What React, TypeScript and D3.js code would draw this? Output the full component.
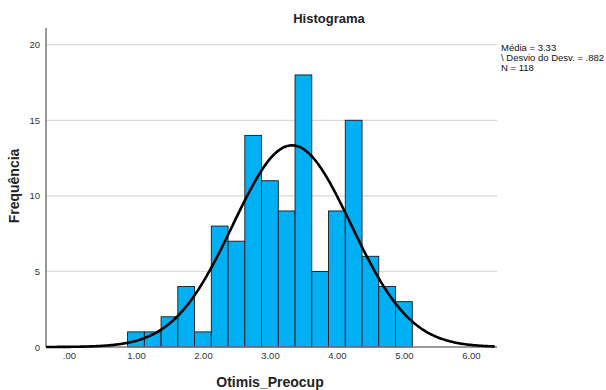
import React, { useEffect, useRef } from "react";
import { select, scaleLinear, axisBottom, axisLeft, line, curveBasis, range } from "d3";

// bins of Otimis_Preocup (width .25, starting at .875)
const binStarts = [0.875, 1.125, 1.375, 1.625, 1.875, 2.125, 2.375, 2.625, 2.875, 3.125, 3.375, 3.625, 3.875, 4.125, 4.375, 4.625, 4.875];
const binWidth = 0.25;
const counts = [1, 1, 2, 4, 1, 8, 7, 14, 11, 9, 18, 5, 9, 15, 6, 4, 3];

const xTicks = [0, 1, 2, 3, 4, 5, 6];
const yTicks = [0, 5, 10, 15, 20];

const mean = 3.33;
const sd = 0.882;
const n = 118;
const legendLines = ["Média = 3.33", "\\ Desvio do Desv. = .882", "N = 118"];

const App = (): JSX.Element => {
    const ref = useRef<SVGSVGElement>(null);

    useEffect(() => {
        document.body.style.margin = "0";
        const width = 606;
        const height = 390;
        const left = 46;
        const right = 497;
        const top = 28;
        const bottom = 347;
        const font = "'Liberation Sans', Arial, sans-serif";

        const svg = select(ref.current).attr("width", width).attr("height", height);
        svg.selectAll("*").remove();
        svg.append("rect").attr("width", width).attr("height", height).attr("fill", "#fff");

        const x = scaleLinear().domain([-0.343, 6.39]).range([left, right]);
        const y = scaleLinear().domain([0, 20]).range([bottom, 44.7]);

        // gridlines
        svg.append("g")
            .selectAll("line")
            .data(yTicks.filter((d) => d > 0))
            .join("line")
            .attr("x1", left)
            .attr("x2", right)
            .attr("y1", (d) => y(d))
            .attr("y2", (d) => y(d))
            .attr("stroke", "#d9d9d9")
            .attr("stroke-width", 1.2);

        // bars
        svg.append("g")
            .selectAll("rect")
            .data(counts)
            .join("rect")
            .attr("x", (d, i) => x(binStarts[i]))
            .attr("y", (d) => y(d))
            .attr("width", x(binWidth) - x(0))
            .attr("height", (d) => y(0) - y(d))
            .attr("fill", "#00b0f5")
            .attr("stroke", "#1a1a1a")
            .attr("stroke-width", 0.9);

        // axes
        const yAxis = svg.append("g")
            .attr("transform", `translate(${left},0)`)
            .call(axisLeft(y).tickValues(yTicks).tickSize(0).tickPadding(6));
        yAxis.select(".domain").remove();
        yAxis.selectAll("text").attr("font-family", font).attr("font-size", 9.5).attr("fill", "#333");
        svg.append("line")
            .attr("x1", left).attr("x2", left).attr("y1", top).attr("y2", bottom)
            .attr("stroke", "#777").attr("stroke-width", 1.5);

        const xAxis = svg.append("g")
            .attr("transform", `translate(0,${bottom})`)
            .call(axisBottom(x).tickValues(xTicks).tickSize(0).tickPadding(5).tickFormat((d) => {
                const s = (+d).toFixed(2);
                return s.startsWith("0") ? s.slice(1) : s;
            }));
        xAxis.select(".domain").remove();
        xAxis.selectAll("text").attr("font-family", font).attr("font-size", 9.5).attr("fill", "#333");
        svg.append("line")
            .attr("x1", left).attr("x2", right).attr("y1", bottom).attr("y2", bottom)
            .attr("stroke", "#777").attr("stroke-width", 1.5);

        // normal curve from the legend's mean, sd and N
        const scale = (n * binWidth) / (sd * Math.sqrt(2 * Math.PI));
        const pts = range(-0.343, 6.36, 0.02).map((v) => [v, scale * Math.exp(-0.5 * ((v - mean) / sd) ** 2)] as [number, number]);
        svg.append("path")
            .datum(pts)
            .attr("d", line<[number, number]>().x((d) => x(d[0])).y((d) => y(d[1])).curve(curveBasis))
            .attr("fill", "none")
            .attr("stroke", "#000")
            .attr("stroke-width", 2.6);

        // titles
        svg.append("text")
            .attr("x", 329).attr("y", 23)
            .attr("text-anchor", "middle")
            .attr("font-family", font).attr("font-weight", "bold").attr("font-size", 13)
            .attr("fill", "#222")
            .text("Histograma");
        svg.append("text")
            .attr("x", 270).attr("y", 387)
            .attr("text-anchor", "middle")
            .attr("font-family", font).attr("font-weight", "bold").attr("font-size", 14)
            .attr("fill", "#222")
            .text("Otimis_Preocup");
        svg.append("text")
            .attr("transform", "translate(19,186) rotate(-90)")
            .attr("text-anchor", "middle")
            .attr("font-family", font).attr("font-weight", "bold").attr("font-size", 14)
            .attr("fill", "#222")
            .text("Frequência");

        // legend
        svg.append("g")
            .selectAll("text")
            .data(legendLines)
            .join("text")
            .attr("x", 501)
            .attr("y", (d, i) => 51 + i * 10)
            .attr("font-family", font).attr("font-size", 9.5)
            .attr("fill", "#111")
            .text((d) => d);
    }, []);

    return <svg ref={ref} style={{ display: "block" }} />;
};

export default App;
